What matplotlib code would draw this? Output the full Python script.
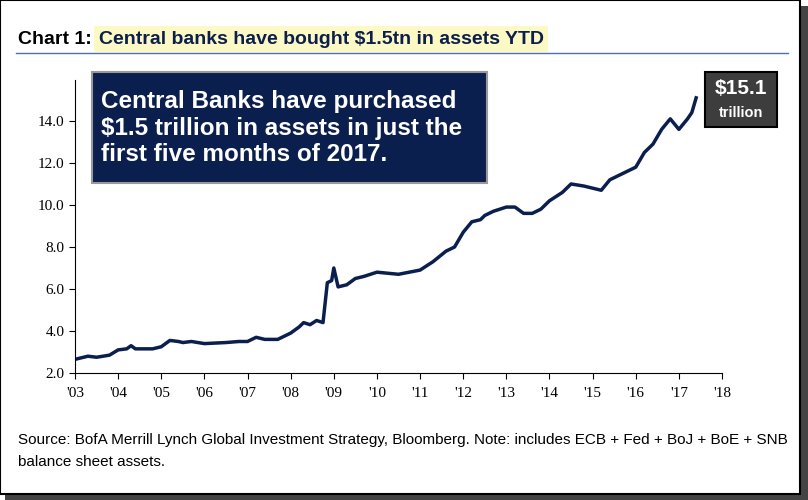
import matplotlib
matplotlib.use('Agg')
import matplotlib.pyplot as plt
from matplotlib.patches import Rectangle

plt.rcParams['font.family'] = ['Liberation Sans', 'DejaVu Sans']

# year fraction, balance sheet assets ($tn)
years = [2003.0, 2003.3, 2003.5, 2003.8, 2004.0, 2004.2, 2004.3, 2004.4, 2004.8, 2005.0, 2005.2,
         2005.4, 2005.5, 2005.7, 2006.0, 2006.5, 2006.8, 2007.0, 2007.2, 2007.4, 2007.7, 2008.0,
         2008.2, 2008.3, 2008.45, 2008.6, 2008.75, 2008.85, 2008.95, 2009.0, 2009.1, 2009.3, 2009.5,
         2009.7, 2010.0, 2010.5, 2011.0, 2011.3, 2011.6, 2011.8, 2012.0, 2012.2, 2012.4, 2012.5,
         2012.7, 2013.0, 2013.2, 2013.4, 2013.6, 2013.8, 2014.0, 2014.3, 2014.5, 2014.8, 2015.0,
         2015.2, 2015.4, 2015.6, 2016.0, 2016.2, 2016.4, 2016.6, 2016.8, 2017.0, 2017.2, 2017.3, 2017.4]
assets = [2.65, 2.8, 2.75, 2.85, 3.1, 3.15, 3.3, 3.15, 3.15, 3.25, 3.55,
          3.5, 3.45, 3.5, 3.4, 3.45, 3.5, 3.5, 3.7, 3.6, 3.6, 3.9,
          4.2, 4.4, 4.3, 4.5, 4.4, 6.3, 6.4, 7.0, 6.1, 6.2, 6.5,
          6.6, 6.8, 6.7, 6.9, 7.3, 7.8, 8.0, 8.7, 9.2, 9.3, 9.5,
          9.7, 9.9, 9.9, 9.6, 9.6, 9.8, 10.2, 10.6, 11.0, 10.9, 10.8,
          10.7, 11.2, 11.4, 11.8, 12.5, 12.9, 13.6, 14.1, 13.6, 14.1, 14.4, 15.1]
yticks = [2.0, 4.0, 6.0, 8.0, 10.0, 12.0, 14.0]
xticks = list(range(2003, 2019))
xlabels = ["'%02d" % (y % 100) for y in xticks]

navy = '#0b1f4f'
fig = plt.figure(figsize=(8.08, 5.0), dpi=100)
fig.patches.append(Rectangle((0.006, 0.0), 0.994, 0.988, transform=fig.transFigure,
                             facecolor='#444444', edgecolor='none', zorder=-2))
fig.patches.append(Rectangle((0.0, 0.012), 0.99, 0.988, transform=fig.transFigure,
                             facecolor='white', edgecolor='black', lw=1.5, zorder=-1))

fig.text(0.022, 0.922, 'Chart 1: ', fontsize=14, fontweight='bold', color='black', va='center')
fig.text(0.122, 0.922, 'Central banks have bought $1.5tn in assets YTD', fontsize=14,
         fontweight='bold', color=navy, va='center',
         bbox=dict(facecolor='#fdf9c4', edgecolor='none', pad=3))
fig.add_artist(plt.Line2D([0.02, 0.975], [0.895, 0.895], color='#4a6fb5', lw=1))

ax = fig.add_axes([0.0928, 0.254, 0.8008, 0.586])
ax.plot(years, assets, color=navy, lw=2.5)
ax.set_xlim(2003, 2018)
ax.set_ylim(2.0, 15.95)
ax.set_yticks(yticks)
ax.set_yticklabels(['%.1f' % v for v in yticks], family='Liberation Serif', fontsize=11)
ax.set_xticks(xticks)
ax.set_xticklabels(xlabels, family='Liberation Serif', fontsize=11)
ax.tick_params(axis='x', direction='out', length=4, pad=6)
ax.tick_params(axis='y', direction='out', length=4)
for s in ['top', 'right']:
    ax.spines[s].set_visible(False)

fig.patches.append(Rectangle((92/808, 1-183/500), 395/808, 111/500, transform=fig.transFigure,
                             facecolor=navy, edgecolor='#999999', lw=1.5, zorder=5))
fig.text(101/808, 1-128/500, 'Central Banks have purchased\n$1.5 trillion in assets in just the\nfirst five months of 2017.',
         color='white', fontsize=17.5, fontweight='bold', va='center', linespacing=1.2, zorder=6)

fig.patches.append(Rectangle((705/808, 1-127/500), 72/808, 55/500, transform=fig.transFigure,
                             facecolor='#3d3d3d', edgecolor='black', lw=1.5, zorder=5))
fig.text(741/808, 1-89/500, '$15.1', color='white', fontsize=15, fontweight='bold', ha='center', va='center', zorder=6)
fig.text(741/808, 1-113/500, 'trillion', color='white', fontsize=10.5, fontweight='bold', ha='center', va='center', zorder=6)

fig.text(0.022, 1-440/500, 'Source: BofA Merrill Lynch Global Investment Strategy, Bloomberg. Note: includes ECB + Fed + BoJ + BoE + SNB',
         fontsize=11, va='center')
fig.text(0.022, 1-462/500, 'balance sheet assets.', fontsize=11, va='center')

fig.savefig('out.png', dpi=100)
